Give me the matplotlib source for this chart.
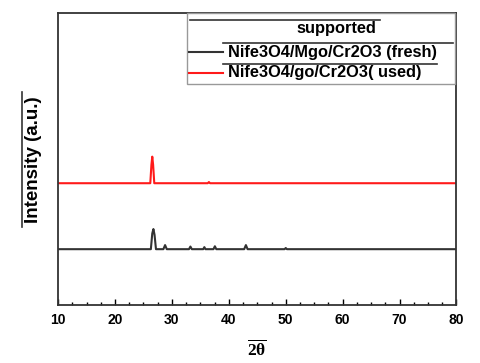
import matplotlib
matplotlib.use('Agg')
import matplotlib.pyplot as plt
from matplotlib.lines import Line2D
from matplotlib.patches import Rectangle
from matplotlib.ticker import MultipleLocator

plt.rcParams['font.family'] = ['Liberation Sans', 'DejaVu Sans']
plt.rcParams['font.weight'] = 'bold'
plt.rcParams['mathtext.fontset'] = 'custom'
plt.rcParams['mathtext.rm'] = 'Liberation Serif'
plt.rcParams['mathtext.bf'] = 'Liberation Serif:bold'

# fresh catalyst pattern (offset baseline, arbitrary units)
fresh_x = [10, 26.3, 26.55, 26.75, 26.95, 27.2, 28.5, 28.8, 29.1, 33.0, 33.25, 33.5,
           35.5, 35.7, 35.9, 37.3, 37.55, 37.8, 42.7, 43.0, 43.3, 49.8, 50.0, 50.2, 80]
fresh_y = [19.1, 19.1, 24.5, 26.0, 24.0, 19.1, 19.1, 20.5, 19.1, 19.1, 20.0, 19.1,
           19.1, 19.8, 19.1, 19.1, 20.1, 19.1, 19.1, 20.5, 19.1, 19.1, 19.5, 19.1, 19.1]

# used catalyst pattern
used_x = [10, 26.2, 26.4, 26.55, 26.7, 26.9, 36.3, 36.5, 36.7, 80]
used_y = [41.7, 41.7, 48.0, 50.8, 48.0, 41.7, 41.7, 42.1, 41.7, 41.7]

labels = ['Nife3O4/Mgo/Cr2O3 (fresh)', 'Nife3O4/go/Cr2O3( used)']
colors = ['#333333', '#ff1a1a']
legend_title = 'supported'

W, H = 480, 363
fig = plt.figure(figsize=(W / 100, H / 100), dpi=100)
ax = fig.add_axes([0.121, 0.16, 0.830, 0.804])

ax.plot(fresh_x, fresh_y, color=colors[0], lw=1.5)
ax.plot(used_x, used_y, color=colors[1], lw=1.5)

ax.set_xlim(10, 80)
ax.set_ylim(0, 100)
ax.xaxis.set_major_locator(MultipleLocator(10))
ax.xaxis.set_minor_locator(MultipleLocator(2.5))
ax.tick_params(axis='x', which='major', direction='in', length=4, width=1,
               labelsize=10, pad=6)
ax.tick_params(axis='x', which='minor', direction='in', length=2, width=1)
ax.set_yticks([])
for s in ax.spines.values():
    s.set_linewidth(1.3)
    s.set_color('#333333')
for lab in ax.get_xticklabels():
    lab.set_fontweight('bold')

ax.set_xlabel(r'$\overline{\mathbf{2\theta}}$', fontsize=12.5, labelpad=8)


# pixel helpers (top-left origin) for the Origin-style decorations
def px(x):
    return x / W


def py(y):
    return 1 - y / H


def hline(x0, x1, y, color='#333333', lw=1.2):
    fig.add_artist(Line2D([px(x0), px(x1)], [py(y), py(y)], color=color, lw=lw))


# y label with overline
fig.text(px(33), py(160), 'Intensity (a.u.)', rotation=90, fontsize=13.5,
         fontweight='bold', ha='center', va='center')
fig.add_artist(Line2D([px(22), px(22)], [py(227), py(92)],
                      color='#333333', lw=1.2))

# legend box
fig.add_artist(Rectangle((px(187), py(84)), px(455) - px(187), py(13) - py(84),
                         transform=fig.transFigure, fill=False,
                         edgecolor='#999999', lw=1))
fig.text(px(336), py(29), legend_title, fontsize=11.8, fontweight='bold',
         ha='center', va='center')
hline(190, 380, 20)
row_y = [52, 73]
over_x1 = [453, 437]
for lab, c, y, x1 in zip(labels, colors, row_y, over_x1):
    hline(189, 223, y, color=c, lw=1.5)
    fig.text(px(228), py(y), lab, fontsize=11.8, fontweight='bold',
             ha='left', va='center')
    hline(223, x1, y - 9.5)

fig.savefig('out.png', dpi=100)
